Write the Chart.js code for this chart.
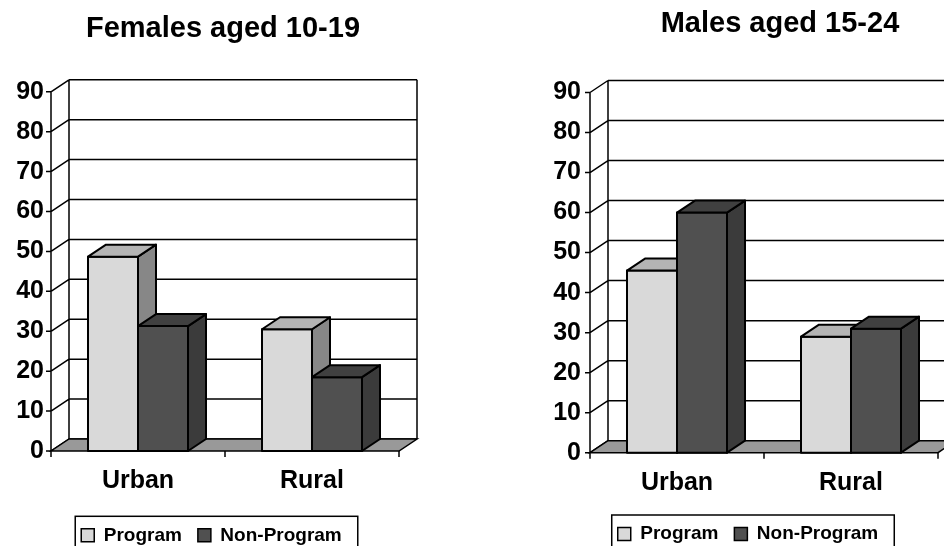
<!DOCTYPE html>
<html lang="en">
<head>
<meta charset="UTF-8" />
<title>Program vs Non-Program</title>
<script src="https://cdn.jsdelivr.net/npm/chart.js@4.4.0/dist/chart.umd.min.js"></script>
<style>
  html, body { margin: 0; padding: 0; background: #fff; overflow: hidden; }
  .wrap { position: relative; width: 944px; height: 546px; overflow: hidden; }
  .box { position: absolute; top: 0; width: 472px; height: 600px; }
</style>
</head>
<body>
<div class="wrap">
  <div class="box" style="left: 0"><canvas id="femaleChart" width="472" height="600"></canvas></div>
  <div class="box" style="left: 472px"><canvas id="maleChart" width="472" height="600"></canvas></div>
</div>

<script>
// data
const categories = ["Urban", "Rural"];
const seriesNames = ["Program", "Non-Program"];
const femaleProgram = [48.7, 30.5];
const femaleNonProgram = [31.3, 18.5];
const maleProgram = [45.5, 29];
const maleNonProgram = [60, 31];
const yMax = 90;
const yStep = 10;

const FONT = "'Liberation Sans', Arial, sans-serif";
const depth = { dx: 18, dy: -12 };

// colours: front, top, side of each series
const frontColors = ["#d9d9d9", "#505050"];
const topColors = ["#b4b4b4", "#404040"];
const sideColors = ["#878787", "#3b3b3b"];

function poly(ctx, pts, fill) {
  ctx.beginPath();
  ctx.moveTo(pts[0][0], pts[0][1]);
  for (let i = 1; i < pts.length; i++) ctx.lineTo(pts[i][0], pts[i][1]);
  ctx.closePath();
  ctx.fillStyle = fill;
  ctx.fill();
  ctx.stroke();
}

// fake 3D frame + bar faces, all taken from the chart's own scales/elements
const box3d = {
  id: "box3d",
  afterLayout(chart, args, opts) {
    const t = chart.titleBlock, l = chart.legend;
    if (t) { t.left += opts.titleShift; t.right += opts.titleShift; }
    if (l) { l.left += opts.legendShift; l.right += opts.legendShift; }
  },
  beforeDatasetsDraw(chart) {
    const { ctx, chartArea: a, scales: { x, y } } = chart;
    const { dx, dy } = depth;
    const y0 = y.getPixelForValue(0);
    const yt = y.getPixelForValue(y.max);
    ctx.save();
    ctx.lineWidth = 1.5;
    ctx.strokeStyle = "#000";
    ctx.beginPath();
    y.ticks.forEach((t) => {
      const py = y.getPixelForValue(t.value);
      ctx.moveTo(a.left + dx, py + dy);
      ctx.lineTo(a.right + dx, py + dy);
      ctx.moveTo(a.left, py);
      ctx.lineTo(a.left + dx, py + dy);
      ctx.moveTo(a.left - 5, py);
      ctx.lineTo(a.left, py);
    });
    ctx.moveTo(a.left, yt);
    ctx.lineTo(a.left, y0);
    ctx.moveTo(a.left + dx, yt + dy);
    ctx.lineTo(a.left + dx, y0 + dy);
    ctx.moveTo(a.right + dx, yt + dy);
    ctx.lineTo(a.right + dx, y0 + dy);
    // category boundary ticks
    const mid = (x.getPixelForValue(0) + x.getPixelForValue(1)) / 2;
    [a.left, mid, a.right].forEach((px) => {
      ctx.moveTo(px, y0);
      ctx.lineTo(px, y0 + 6);
    });
    ctx.stroke();
    // floor
    poly(ctx, [[a.left, y0], [a.right, y0], [a.right + dx, y0 + dy], [a.left + dx, y0 + dy]], "#999999");
    ctx.restore();
  },
  afterDatasetsDraw(chart) {
    // redraw every bar as a box, series in index order so later ones sit in front
    const { ctx } = chart;
    const { dx, dy } = depth;
    ctx.save();
    ctx.lineWidth = 2;
    ctx.strokeStyle = "#000";
    ctx.lineJoin = "round";
    chart.data.datasets.forEach((ds, i) => {
      chart.getDatasetMeta(i).data.forEach((bar) => {
        const { x, y, width, base } = bar.getProps(["x", "y", "width", "base"], true);
        const l = x - width / 2, r = x + width / 2;
        poly(ctx, [[l, y], [r, y], [r, base], [l, base]], frontColors[i]);
        poly(ctx, [[r, y], [r + dx, y + dy], [r + dx, base + dy], [r, base]], sideColors[i]);
        poly(ctx, [[l, y], [l + dx, y + dy], [r + dx, y + dy], [r, y]], topColors[i]);
      });
    });
    ctx.restore();
  },
  afterDraw(chart) {
    const { ctx } = chart;
    const hb = chart.legend.legendHitBoxes;
    if (!hb || !hb.length) return;
    const first = hb[0], last = hb[hb.length - 1];
    const cy = first.top + first.height / 2;
    const left = first.left - 6;
    const right = last.left + last.width + 16;
    ctx.save();
    ctx.lineWidth = 1.5;
    ctx.strokeStyle = "#000";
    ctx.strokeRect(left, cy - 19, right - left, 60);
    ctx.restore();
  },
};

function makeChart(id, title, program, nonProgram, lay) {
  const ctx = document.getElementById(id).getContext("2d");
  return new Chart(ctx, {
    type: "bar",
    data: {
      labels: categories,
      datasets: [
        {
          label: seriesNames[0],
          data: program,
          backgroundColor: frontColors[0],
          borderColor: "#000",
          borderWidth: 1.5,
          borderSkipped: false,
        },
        {
          label: seriesNames[1],
          data: nonProgram,
          backgroundColor: frontColors[1],
          borderColor: "#000",
          borderWidth: 1.5,
          borderSkipped: false,
        },
      ],
    },
    options: {
      responsive: false,
      animation: false,
      categoryPercentage: 100 / 174,
      barPercentage: 1,
      layout: { padding: { left: 0, right: lay.padRight, top: 0, bottom: lay.padBottom } },
      plugins: {
        tooltip: { enabled: false },
        title: {
          display: true,
          text: title,
          color: "#000",
          font: { family: FONT, size: 29, weight: "bold" },
          padding: { top: lay.titleTop, bottom: lay.titleBottom },
        },
        legend: {
          position: "bottom",
          labels: {
            color: "#000",
            font: { family: FONT, size: 19, weight: "bold" },
            boxWidth: 13,
            boxHeight: 13,
            padding: 16,
          },
        },
        box3d: { titleShift: lay.titleShift, legendShift: lay.legendShift },
      },
      scales: {
        x: {
          grid: { display: false, drawTicks: false, tickLength: 0 },
          border: { display: false },
          ticks: {
            color: "#000",
            font: { family: FONT, size: 25, weight: "bold" },
            padding: lay.xPad,
          },
          afterFit: (s) => { s.height = lay.xHeight; },
        },
        y: {
          min: 0,
          max: yMax,
          grid: { display: false, drawTicks: false, tickLength: 0 },
          border: { display: false },
          ticks: {
            stepSize: yStep,
            color: "#000",
            font: { family: FONT, size: 25, weight: "bold" },
            padding: lay.yPad,
          },
          afterFit: (s) => { s.width = lay.yWidth; },
        },
      },
    },
    plugins: [box3d],
  });
}

makeChart("femaleChart", "Females aged 10-19", femaleProgram, femaleNonProgram, {
  padRight: 73, padBottom: 45.2, titleTop: 11.6, titleBottom: 45.4,
  titleShift: 23.5, legendShift: 12, xPad: 15.4, xHeight: 58.8, yPad: 7, yWidth: 51,
});
makeChart("maleChart", "Males aged 15-24", maleProgram, maleNonProgram, {
  padRight: 6, padBottom: 46.5, titleTop: 7, titleBottom: 50.7,
  titleShift: 75, legendShift: 43, xPad: 15.2, xHeight: 55.8, yPad: 9, yWidth: 118,
});
</script>
</body>
</html>
